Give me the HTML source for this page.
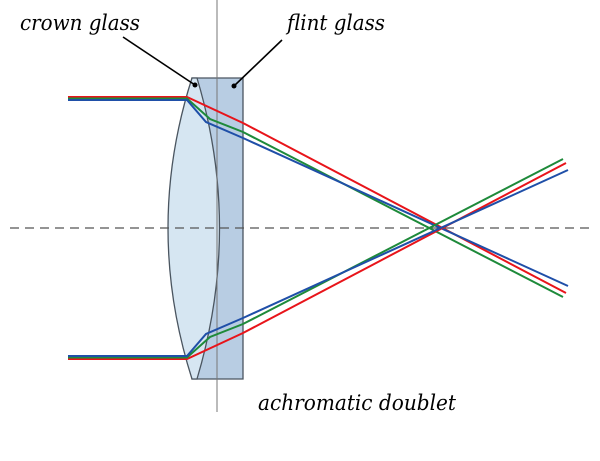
<!DOCTYPE html>
<html><head><style>body{margin:0;background:#fff}</style></head><body>
<svg width="600" height="456" xmlns="http://www.w3.org/2000/svg">
<rect width="600" height="456" fill="#fff"/>
<path d="M192,78 L243,78 L243,379 L192,379 Z" fill="#b8cde3" stroke="#4a5560" stroke-width="1.3"/>
<path d="M192,78 L197,78 Q242,228 197,379 L192,379 Q144,228 192,78 Z" fill="#d6e6f2" stroke="#4a5560" stroke-width="1.3"/>
<line x1="217" y1="0" x2="217" y2="412" stroke="#777" stroke-width="1"/>
<line x1="10" y1="228" x2="592" y2="228" stroke="#555" stroke-width="1.2" stroke-dasharray="9,6"/>
<g fill="none" stroke-width="2">
<polyline points="68,97 187,97 243,123 566,293" stroke="#e8141a"/>
<polyline points="68,98.5 187,98.5 210,119 243,132 563,297" stroke="#1e8a3a"/>
<polyline points="68,100 187,100 206,122 243,138 568,286" stroke="#1f4fa8"/>
<polyline points="68,359 187,359 243,333 566,163" stroke="#e8141a"/>
<polyline points="68,357.5 187,357.5 210,337 243,324 563,159" stroke="#1e8a3a"/>
<polyline points="68,356 187,356 206,334 243,318 568,170" stroke="#1f4fa8"/>
</g>
<line x1="123" y1="37" x2="195" y2="85" stroke="#000" stroke-width="1.6"/>
<line x1="282" y1="40" x2="234" y2="86" stroke="#000" stroke-width="1.6"/>
<circle cx="195" cy="85" r="2.5" fill="#000"/>
<circle cx="234" cy="86" r="2.5" fill="#000"/>
<g font-family="DejaVu Serif, serif" font-style="italic" font-size="21" fill="#000">
<text x="20" y="30" textLength="120" lengthAdjust="spacingAndGlyphs">crown glass</text>
<text x="287" y="30" textLength="98" lengthAdjust="spacingAndGlyphs">flint glass</text>
<text x="258" y="410" textLength="198" lengthAdjust="spacingAndGlyphs">achromatic doublet</text>
</g>
</svg>
</body></html>
